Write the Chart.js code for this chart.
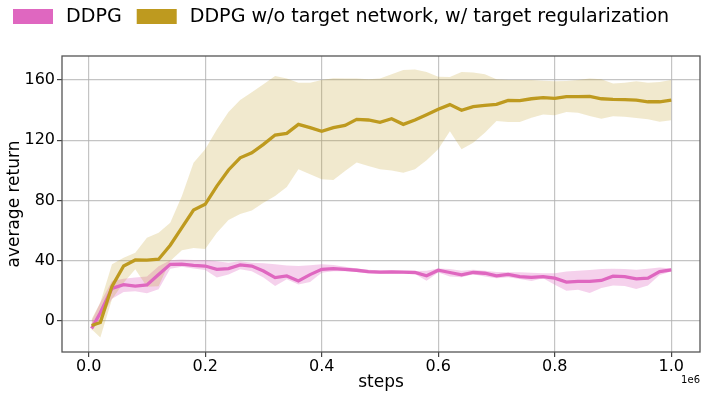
<!DOCTYPE html>
<html>
<head>
<meta charset="utf-8">
<script src="https://cdn.jsdelivr.net/npm/chart.js@4.4.1/dist/chart.umd.min.js"></script>
<style>
  html, body { margin: 0; padding: 0; background: #fff; }
  #wrap { width: 706px; height: 399px; position: relative; }
</style>
</head>
<body>
<div id="wrap"><canvas id="returnChart" width="706" height="399"></canvas></div>
<script>
"use strict";

const steps = [
  5000, 20000, 40000, 60000, 80000, 100000, 120000, 140000, 160000, 180000,
  200000, 220000, 240000, 260000, 280000, 300000, 320000, 340000, 360000, 380000,
  400000, 420000, 440000, 460000, 480000, 500000, 520000, 540000, 560000, 580000,
  600000, 620000, 640000, 660000, 680000, 700000, 720000, 740000, 760000, 780000,
  800000, 820000, 840000, 860000, 880000, 900000, 920000, 940000, 960000, 980000,
  1000000,
];

// DDPG w/o target network, w/ target regularization
const regMean = [
  -3, -1, 23, 36.5, 40.5, 40.4, 41, 50.3, 62, 73.7,
  77.5, 89.6, 100.3, 108.4, 111.7, 117.3, 123.5, 124.6, 130.6, 128.4,
  126, 128.4, 129.9, 133.9, 133.5, 132, 134.3, 130.6, 133.5, 137,
  140.6, 143.7, 140, 142.4, 143.2, 143.9, 146.5, 146.3, 147.6, 148.3,
  147.8, 149, 149, 149.2, 147.6, 147.2, 147, 146.7, 145.6, 145.6,
  146.7,
];
const regUpper = [
  1.1, 12.2, 37.6, 42, 45.3, 55.3, 58.6, 65.3, 83, 105.1,
  114, 127.2, 138.8, 146.7, 152, 157.2, 162.7, 161, 158.2, 158.2,
  160, 161.3, 161, 161, 160.5, 161, 163.8, 166.7, 167.1, 165.4,
  162.3, 162.1, 165.4, 165, 163.8, 160.5, 160.1, 160.1, 160.1, 159.6,
  159.2, 159.4, 160.1, 161, 160.5, 157.7, 158.2, 159.2, 158.2, 158.7,
  160.1,
];
const regLower = [
  -5.5, -11, 14.4, 25.4, 34.3, 22.8, 23, 39.8, 47, 48.5,
  47.8, 58.6, 67.1, 71, 73.3, 78.6, 83, 89, 100.7, 97.4,
  94.1, 93.6, 99.6, 105.2, 103, 100.7, 100, 98.5, 100.7, 106.8,
  114, 126, 114, 118.4, 125.1, 132.8, 132.1, 132.1, 135, 137.2,
  136.6, 138.8, 138.3, 136.1, 134.3, 136, 135.6, 134.9, 134, 132.4,
  133.3,
];

// DDPG
const ddpgMean = [
  -5, 5.5, 21.7, 24.1, 23.2, 23.9, 30.9, 37.6, 37.8, 37,
  36.5, 34.3, 34.8, 37.2, 36.5, 33.2, 28.8, 29.9, 26.6, 30.8,
  34.3, 34.8, 34.3, 33.7, 32.8, 32.4, 32.6, 32.4, 32.2, 30,
  33.7, 32.2, 30.6, 32.2, 31.7, 30, 30.9, 29.5, 29, 29.5,
  28.4, 25.8, 26.3, 26.3, 26.9, 29.8, 29.5, 28, 28.4, 32.8,
  33.9,
];
const ddpgUpper = [
  0, 12.2, 26.6, 28.1, 28.8, 29.5, 36.4, 40.4, 40.8, 40.5,
  40.5, 39.6, 38.7, 39.6, 38.7, 38.3, 37.6, 36.9, 36.5, 37,
  37.6, 37.2, 36.1, 34.8, 34, 33.6, 33.6, 33.4, 33.2, 33.4,
  34.8, 34.5, 33.4, 34.1, 33.4, 32.6, 32.4, 32.4, 32, 31.7,
  31.7, 32.8, 33.4, 33.9, 34.5, 34.7, 34.5, 34.1, 34.7, 35.6,
  34.8,
];
const ddpgLower = [
  -6.6, 1.1, 14.8, 19.2, 19.7, 18.4, 21, 34.7, 36, 34.8,
  33.9, 28.8, 30.8, 34.3, 33, 28.8, 23.2, 27.7, 24.3, 25.9,
  32.1, 33, 33, 32.6, 31.6, 31.2, 31.6, 31.4, 31.2, 26.8,
  32.2, 29.5, 29, 31, 29.5, 28.4, 29.1, 27.9, 26.6, 28.4,
  24.1, 20.1, 20.8, 18.6, 21.9, 23.6, 23.2, 21.2, 23.6, 30.6,
  32.8,
];

const xTicks = [0, 200000, 400000, 600000, 800000, 1000000];
const yTicks = [0, 40, 80, 120, 160];
const seriesNames = ["DDPG", "DDPG w/o target network, w/ target regularization"];

const PINK = "#df67c0";
const GOLD = "#be9a1f";
const FONT = "'DejaVu Sans', sans-serif";

const pts = (vals) => vals.map((y, i) => ({ x: steps[i], y }));

const band = (vals, color, fill) => ({
  data: pts(vals),
  borderWidth: 0,
  pointRadius: 0,
  backgroundColor: color,
  fill,
  order: 3,
});

const extras = {
  id: "extras",
  afterDraw(chart) {
    const { ctx, chartArea: a } = chart;
    ctx.save();
    // axes frame
    ctx.strokeStyle = "#555";
    ctx.lineWidth = 1.3;
    ctx.strokeRect(a.left, a.top, a.right - a.left, a.bottom - a.top);

    // legend
    ctx.font = "19.1px " + FONT;
    ctx.textBaseline = "middle";
    let x = 13;
    [PINK, GOLD].forEach((c, i) => {
      ctx.fillStyle = c;
      ctx.fillRect(x, 9, 40, 15);
      x += 53;
      ctx.fillStyle = "#000";
      ctx.fillText(seriesNames[i], x, 17);
      x += ctx.measureText(seriesNames[i]).width + 15;
    });

    // offset text
    ctx.font = "10px " + FONT;
    ctx.textAlign = "right";
    ctx.fillText("1e6", 700, 380);
    ctx.restore();
  },
};

new Chart(document.getElementById("returnChart"), {
  type: "line",
  data: {
    datasets: [
      band(regUpper, "rgba(190,154,31,0.22)", "+1"),
      band(regLower, "rgba(190,154,31,0)", false),
      band(ddpgUpper, "rgba(223,103,192,0.3)", "+1"),
      band(ddpgLower, "rgba(223,103,192,0)", false),
      {
        label: seriesNames[0],
        data: pts(ddpgMean),
        borderColor: PINK,
        borderWidth: 3.3,
        pointRadius: 0,
        fill: false,
        order: 2,
      },
      {
        label: seriesNames[1],
        data: pts(regMean),
        borderColor: GOLD,
        borderWidth: 3.3,
        pointRadius: 0,
        fill: false,
        order: 1,
      },
    ],
  },
  options: {
    responsive: false,
    animation: false,
    layout: { padding: { top: 56, right: 6, bottom: 0, left: 0 } },
    plugins: { legend: { display: false }, tooltip: { enabled: false } },
    elements: { line: { tension: 0 } },
    scales: {
      x: {
        type: "linear",
        min: -45800,
        max: 1049300,
        afterFit: (s) => { s.height = 47; },
        afterBuildTicks: (s) => { s.ticks = xTicks.map((value) => ({ value })); },
        ticks: {
          autoSkip: false,
          maxRotation: 0,
          padding: 0,
          color: "#000",
          font: { family: FONT, size: 16 },
          callback: (v) => (v / 1e6).toFixed(1),
        },
        grid: { color: "rgba(176,176,176,0.75)", lineWidth: 1.2, tickLength: 5, tickColor: "#444" },
        border: { display: false },
        title: {
          display: true,
          text: "steps",
          color: "#000",
          font: { family: FONT, size: 17 },
          padding: { top: 0, bottom: 6 },
        },
      },
      y: {
        min: -20.6,
        max: 176,
        afterFit: (s) => { s.width = 62; },
        afterBuildTicks: (s) => { s.ticks = yTicks.map((value) => ({ value })); },
        ticks: {
          padding: 2,
          color: "#000",
          font: { family: FONT, size: 16 },
        },
        grid: { color: "rgba(176,176,176,0.75)", lineWidth: 1.2, tickLength: 5, tickColor: "#444" },
        border: { display: false },
        title: {
          display: true,
          text: "average return",
          color: "#000",
          font: { family: FONT, size: 17 },
          padding: { top: 4, bottom: 0 },
        },
      },
    },
  },
  plugins: [extras],
});
</script>
</body>
</html>
